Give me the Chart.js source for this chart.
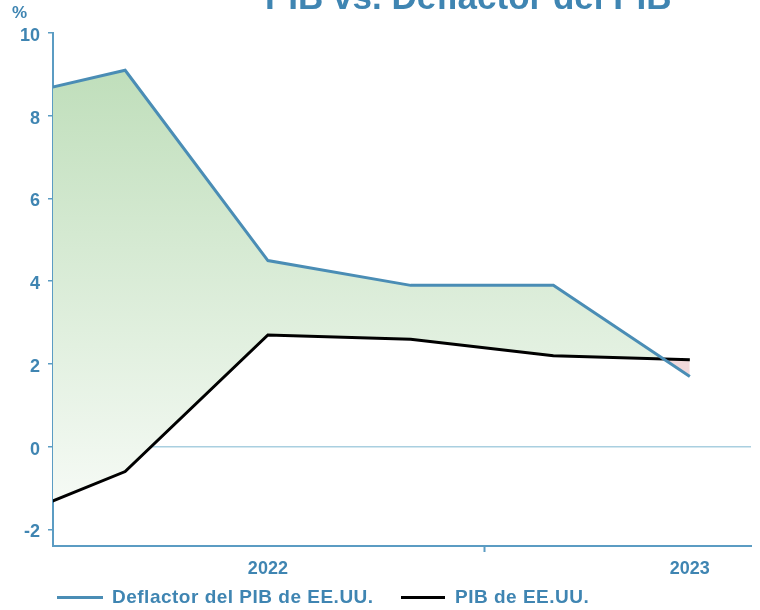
<!DOCTYPE html>
<html>
<head>
<meta charset="utf-8">
<script src="https://cdn.jsdelivr.net/npm/chart.js@4"></script>
<style>
  html, body { margin: 0; padding: 0; background: #fff; }
  #wrap { position: relative; width: 760px; height: 610px; overflow: hidden; font-family: "Liberation Sans", Arial, sans-serif; font-weight: bold; color: #3f85b2; }
  #chart { position: absolute; left: 0; top: 0; }
  .title { position: absolute; left: 265px; top: -21.5px; font-size: 35px; line-height: 35px; white-space: nowrap; }
  .unit { position: absolute; left: 12px; top: 3.6px; font-size: 17px; line-height: 17px; }
  .legend { position: absolute; top: 587px; left: 0; font-size: 19px; line-height: 20px; letter-spacing: 0.5px; white-space: nowrap; }
  .legend .swatch { position: absolute; top: 9px; height: 3px; }
  .legend .label { position: absolute; top: 0; }
</style>
</head>
<body>
<div id="wrap">
  <canvas id="chart" width="760" height="610"></canvas>
  <div class="title">PIB vs. Deflactor del PIB</div>
  <div class="unit">%</div>
  <div class="legend" id="legend"></div>
</div>
<script>
/* ---------- DATA ---------- */
const quarterDates = ['2022-02-15', '2022-05-17', '2022-08-16', '2022-11-15', '2023-02-14', '2023-05-12'];
const deflatorValues = [8.3, 9.1, 4.5, 3.9, 3.9, 1.7];   // Deflactor del PIB de EE.UU.
const gdpValues = [-2.0, -0.6, 2.7, 2.6, 2.2, 2.1];      // PIB de EE.UU.
const yearLabels = ['2022', '2023'];
const yearLabelDates = ['2022-08-16', '2023-05-12'];
const yearBoundary = '2023-01-01';
const xRange = ['2022-04-01', '2023-06-20'];
const yTicks = [-2, 0, 2, 4, 6, 8, 10];
const seriesNames = ['Deflactor del PIB de EE.UU.', 'PIB de EE.UU.'];

/* ---------- HELPERS ---------- */
const BLUE = '#4a8db5';
const AXIS = '#5b9cc3';
const TEXT = '#3f85b2';
const ZERO = '#a9cfe0';

function toDay(d) {
  return (Date.parse(d) - Date.parse('2022-01-01')) / 864e5;
}

const boundaryDay = toDay(yearBoundary);
const labelDays = yearLabelDates.map(toDay);

function greenFill(ctx) {
  const area = ctx.chart.chartArea;
  if (!area) return '#d6ead3';
  const g = ctx.chart.ctx.createLinearGradient(0, area.top, 0, area.bottom);
  g.addColorStop(0, '#bbdcb6');
  g.addColorStop(1, '#fbfdfb');
  return g;
}

/* ---------- CHART ---------- */
const font = { family: '"Liberation Sans", Arial, sans-serif', weight: 'bold', size: 18 };

new Chart(document.getElementById('chart'), {
  type: 'line',
  data: {
    datasets: [
      {
        label: seriesNames[0],
        data: quarterDates.map((d, i) => ({ x: toDay(d), y: deflatorValues[i] })),
        borderColor: BLUE,
        borderWidth: 3,
        backgroundColor: greenFill,
        fill: { target: 1, below: '#f1d9db' },
        pointRadius: 0,
        tension: 0,
        clip: 0
      },
      {
        label: seriesNames[1],
        data: quarterDates.map((d, i) => ({ x: toDay(d), y: gdpValues[i] })),
        borderColor: '#000000',
        borderWidth: 3,
        fill: false,
        pointRadius: 0,
        tension: 0,
        clip: 0
      }
    ]
  },
  options: {
    responsive: false,
    animation: false,
    devicePixelRatio: 1,
    layout: { padding: { top: 33, right: 9, bottom: 0, left: 0 } },
    plugins: {
      filler: { drawTime: 'beforeDatasetsDraw' },
      legend: { display: false },
      title: { display: false },
      tooltip: { enabled: false }
    },
    scales: {
      x: {
        type: 'linear',
        min: toDay(xRange[0]),
        max: toDay(xRange[1]),
        afterFit: s => { s.height = 64; },
        afterBuildTicks: s => {
          s.ticks = [{ value: labelDays[0] }, { value: boundaryDay }, { value: labelDays[1] }];
        },
        border: { color: AXIS, width: 2 },
        grid: {
          drawOnChartArea: false,
          tickLength: 6,
          tickWidth: 2,
          tickColor: c => (c.tick && c.tick.value === boundaryDay ? AXIS : 'rgba(0,0,0,0)')
        },
        ticks: {
          color: TEXT,
          font: font,
          padding: 6,
          maxRotation: 0,
          autoSkip: false,
          callback: v => {
            const i = labelDays.indexOf(v);
            return i >= 0 ? yearLabels[i] : '';
          }
        }
      },
      y: {
        min: -2.4,
        max: 10,
        afterFit: s => { s.width = 53; },
        afterBuildTicks: s => { s.ticks = yTicks.map(v => ({ value: v })); },
        border: { color: AXIS, width: 2 },
        grid: {
          color: c => (c.tick && c.tick.value === 0 ? ZERO : 'rgba(0,0,0,0)'),
          lineWidth: 1.5,
          tickLength: 5,
          tickWidth: 1.5,
          tickColor: AXIS
        },
        ticks: { color: TEXT, font: font, padding: 8, labelOffset: 3 }
      }
    }
  }
});

/* ---------- LEGEND ---------- */
const legendItems = [
  { text: seriesNames[0], color: BLUE, sx: 57, sw: 46, tx: 112 },
  { text: seriesNames[1], color: '#000000', sx: 401, sw: 44, tx: 455 }
];
document.getElementById('legend').innerHTML = legendItems.map(it =>
  `<span class="swatch" style="left:${it.sx}px;width:${it.sw}px;background:${it.color}"></span>` +
  `<span class="label" style="left:${it.tx}px">${it.text}</span>`
).join('');
</script>
</body>
</html>
